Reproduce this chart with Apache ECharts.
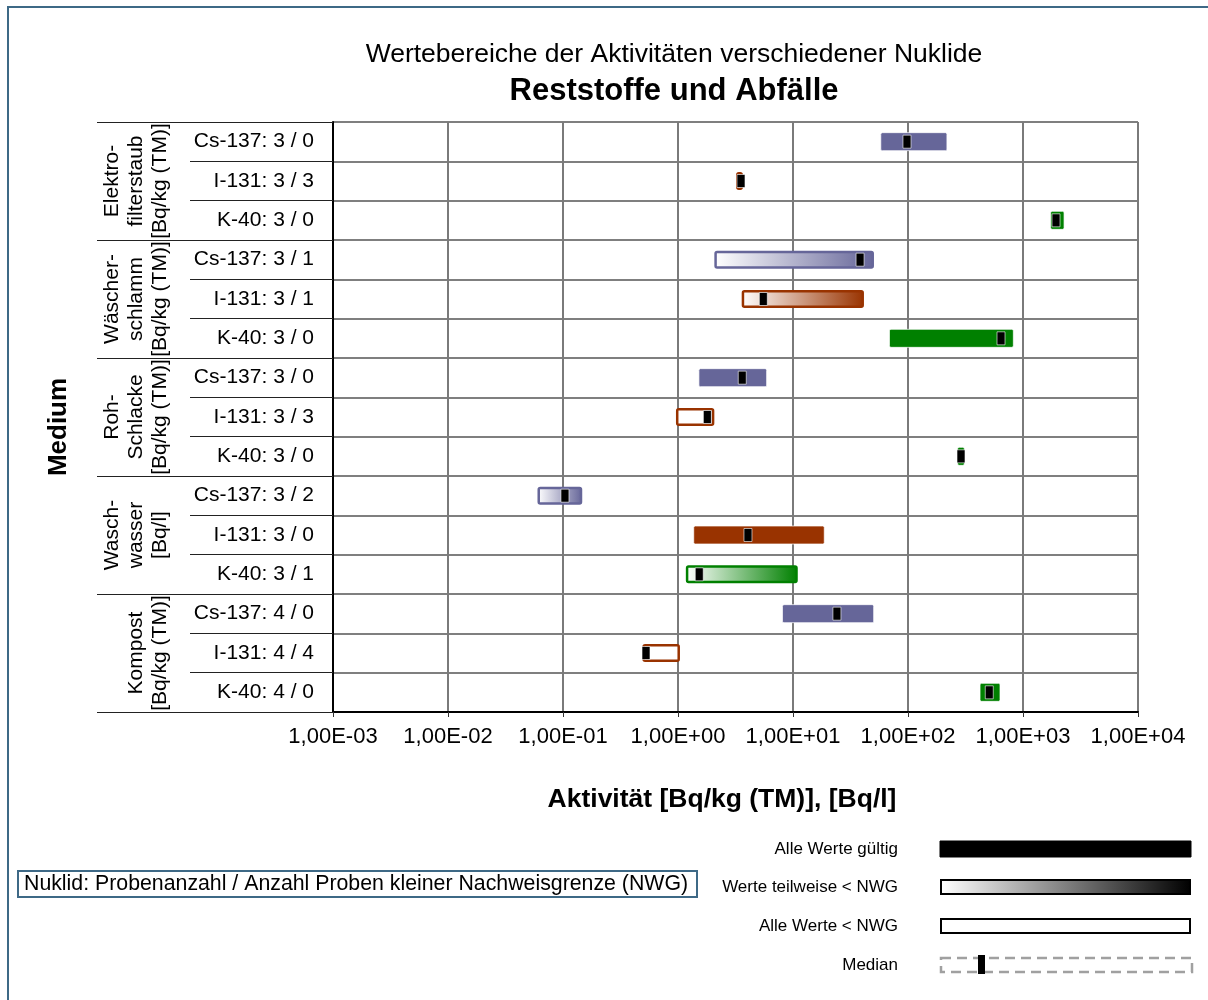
<!DOCTYPE html>
<html>
<head>
<meta charset="utf-8">
<script src="https://cdn.jsdelivr.net/npm/echarts@6/dist/echarts.min.js"></script>
<style>
html,body{margin:0;padding:0;background:#fff;}
#chart{width:1208px;height:1000px;}
</style>
</head>
<body>
<div id="chart"></div>
<script>
// ---------- data ----------
const groupLabels = [
  'Elektro-\nfilterstaub\n[Bq/kg (TM)]',
  'Wäscher-\nschlamm\n[Bq/kg (TM)]',
  'Roh-\nSchlacke\n[Bq/kg (TM)]',
  'Wasch-\nwasser\n[Bq/l]',
  'Kompost\n[Bq/kg (TM)]'
];
const nuclides = ['Cs-137','I-131','K-40','Cs-137','I-131','K-40','Cs-137','I-131','K-40','Cs-137','I-131','K-40','Cs-137','I-131','K-40'];
const sampleCount = [3,3,3, 3,3,3, 3,3,3, 3,3,3, 4,4,4];
const belowNWG    = [0,3,0, 1,1,0, 0,3,0, 2,0,1, 0,4,0];
const minValues    = [58, 3.2, 1740,  2.07, 3.58, 69,   1.52, 0.96, 270,  0.060, 1.37, 1.17,  8.1, 0.49, 423];
const maxValues    = [218, 3.67, 2275, 50.6, 41.4, 824,  5.9,  2.07, 309,  0.147, 18.7, 11.0,  50.3, 1.04, 631];
const medianValues = [98, 3.53, 1937,  38.3, 5.52, 644,  3.62, 1.80, 289,  0.104, 4.06, 1.53,  24.1, 0.527, 509];
const xTickLabels = ['1,00E-03','1,00E-02','1,00E-01','1,00E+00','1,00E+01','1,00E+02','1,00E+03','1,00E+04'];
const nuclideColors = {'Cs-137':'#666699','I-131':'#993300','K-40':'#008000'};

// ---------- derived ----------
const rowLabels = nuclides.map((n,i)=> n + ': ' + sampleCount[i] + ' / ' + belowNWG[i]);
const seriesData = nuclides.map((n,i)=>{
  const type = belowNWG[i] === 0 ? 0 : (belowNWG[i] === sampleCount[i] ? 2 : 1);
  return [i, minValues[i], maxValues[i], medianValues[i], type, n];
});

const FONT = 'Liberation Sans, Arial, sans-serif';
const chart = echarts.init(document.getElementById('chart'));

function renderItem(params, api) {
  const row = api.value(0);
  const lo = api.coord([api.value(1), row]);
  const hi = api.coord([api.value(2), row]);
  const md = api.coord([api.value(3), row]);
  const type = api.value(4);
  const color = nuclideColors[nuclides[row]];
  const h = 18;
  let barStyle;
  if (type === 0) {
    barStyle = {fill: color, stroke: 'rgba(255,255,255,0.7)', lineWidth: 1};
  } else if (type === 1) {
    barStyle = {fill: new echarts.graphic.LinearGradient(0,0,1,0,[{offset:0,color:'#ffffff'},{offset:1,color:color}]), stroke: color, lineWidth: 2.5};
  } else {
    barStyle = {fill: '#ffffff', stroke: color, lineWidth: 2.5};
  }
  const inset = type === 0 ? 0 : 1.25;
  return {
    type: 'group',
    children: [
      {type:'rect', shape:{x: lo[0]+inset, y: lo[1]-h/2+inset, width: Math.max(hi[0]-lo[0]-2*inset,1), height: h-2*inset, r: 1.5}, style: barStyle},
      {type:'rect', shape:{x: md[0]-4, y: md[1]-6.5, width: 8, height: 13}, style:{fill:'#000', stroke:'rgba(255,255,255,0.6)', lineWidth:1}}
    ]
  };
}

const legendX = 940, legendW = 251, legendTextX = 898;
const legendY = [849, 887, 926, 965];

const option = {
  animation: false,
  textStyle: {fontFamily: FONT, color: '#000'},
  title: {
    text: 'Wertebereiche der Aktivitäten verschiedener Nuklide',
    subtext: 'Reststoffe und Abfälle',
    left: 674, top: 41, textAlign: 'center', padding: 0, itemGap: 8,
    textStyle: {fontFamily: FONT, fontSize: 26.5, fontWeight: 'normal', color: '#000', lineHeight: 27},
    subtextStyle: {fontFamily: FONT, fontSize: 31, fontWeight: 'bold', color: '#000', lineHeight: 31}
  },
  grid: {left: 333, right: 70, top: 122, bottom: 288, containLabel: false},
  xAxis: {
    type: 'log', logBase: 10, min: 0.001, max: 10000,
    name: 'Aktivität [Bq/kg (TM)], [Bq/l]',
    nameLocation: 'middle', nameGap: 74,
    nameTextStyle: {fontFamily: FONT, fontSize: 26.5, fontWeight: 'bold', color: '#000', padding: [0, 27, 0, 0]},
    axisLine: {show: true, lineStyle: {color: '#000', width: 2}},
    axisTick: {show: true, length: 5, lineStyle: {color: '#333'}},
    axisLabel: {fontFamily: FONT, fontSize: 22, color: '#000', margin: 14,
      formatter: v => xTickLabels[Math.round(Math.log10(v)) + 3]},
    splitLine: {show: true, lineStyle: {color: '#7a7a7a', width: 2}},
    minorTick: {show: false}
  },
  yAxis: [
    {
      type: 'category', data: rowLabels, inverse: true,
      axisLine: {show: true, lineStyle: {color: '#000', width: 2}},
      axisTick: {show: true, length: 143, lineStyle: {color: '#222', width: 1}},
      axisLabel: {interval: 0, fontFamily: FONT, fontSize: 21, color: '#000', margin: 19},
      splitLine: {show: true, lineStyle: {color: '#555', width: 1.5}}
    },
    {
      type: 'category', data: groupLabels, inverse: true, position: 'left', offset: 0,
      name: 'Medium', nameLocation: 'middle', nameRotate: 90, nameGap: 261,
      nameTextStyle: {fontFamily: FONT, fontSize: 26, fontWeight: 'bold', color: '#000', padding: [0, 20, 0, 0]},
      axisLine: {show: false},
      axisTick: {show: true, length: 236, lineStyle: {color: '#222', width: 1}},
      axisLabel: {interval: 0, rotate: 90, fontFamily: FONT, fontSize: 21, lineHeight: 24, color: '#000', margin: 161, align: 'center'},
      splitLine: {show: false}
    }
  ],
  series: [{
    type: 'custom',
    renderItem: renderItem,
    encode: {x: [1, 2, 3], y: 0},
    data: seriesData,
    clip: false,
    z: 5
  }],
  graphic: [
    {type:'rect', silent:true, z:-1, shape:{x:8, y:7, width:1300, height:1100}, style:{fill:'none', stroke:'#3e6986', lineWidth:2}},
    {type:'rect', shape:{x:18, y:871, width:679, height:26}, style:{fill:'#fff', stroke:'#3e6986', lineWidth:2}},
    {type:'text', x:24, y:884, style:{text:'Nuklid: Probenanzahl / Anzahl Proben kleiner Nachweisgrenze (NWG)', font:'21.3px ' + FONT, fill:'#000', verticalAlign:'middle', align:'left'}},
    {type:'text', x:legendTextX, y:legendY[0], style:{text:'Alle Werte gültig', font:'17px ' + FONT, fill:'#000', align:'right', verticalAlign:'middle'}},
    {type:'text', x:legendTextX, y:legendY[1], style:{text:'Werte teilweise < NWG', font:'17px ' + FONT, fill:'#000', align:'right', verticalAlign:'middle'}},
    {type:'text', x:legendTextX, y:legendY[2], style:{text:'Alle Werte < NWG', font:'17px ' + FONT, fill:'#000', align:'right', verticalAlign:'middle'}},
    {type:'text', x:legendTextX, y:legendY[3], style:{text:'Median', font:'17px ' + FONT, fill:'#000', align:'right', verticalAlign:'middle'}},
    {type:'rect', shape:{x:legendX, y:legendY[0]-8, width:legendW, height:16}, style:{fill:'#000', stroke:'#000', lineWidth:1}},
    {type:'rect', shape:{x:legendX+1, y:legendY[1]-7, width:legendW-2, height:14}, style:{fill:new echarts.graphic.LinearGradient(0,0,1,0,[{offset:0,color:'#fff'},{offset:1,color:'#000'}]), stroke:'#000', lineWidth:2}},
    {type:'rect', shape:{x:legendX+1, y:legendY[2]-7, width:legendW-2, height:14}, style:{fill:'#fff', stroke:'#000', lineWidth:2}},
    {type:'rect', shape:{x:legendX+1, y:legendY[3]-7, width:legendW, height:14}, style:{fill:'none', stroke:'#a0a0a0', lineWidth:2.5, lineDash:[10,6]}},
    {type:'rect', shape:{x:978, y:legendY[3]-10, width:7, height:19}, style:{fill:'#000'}}
  ]
};
chart.setOption(option);
</script>
</body>
</html>
